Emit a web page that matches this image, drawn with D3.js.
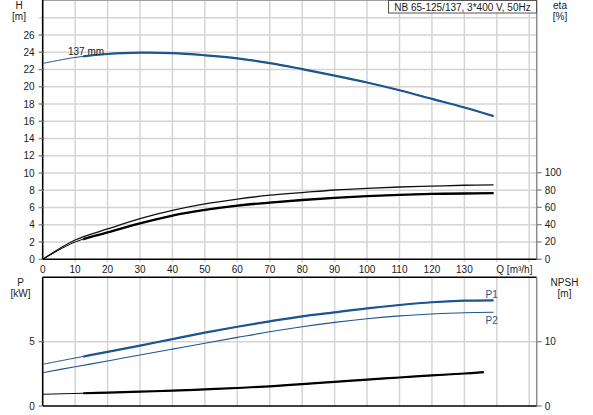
<!DOCTYPE html>
<html>
<head>
<meta charset="utf-8">
<script src="https://cdn.jsdelivr.net/npm/d3@7"></script>
<style>
  body { margin: 0; background: #fff; }
  text { font-family: "Liberation Sans", Arial, sans-serif; font-size: 10px; fill: #1a1a1a; }
</style>
</head>
<body>
<div id="chart"></div>
<script>
// pump curve data
var flowQ = [0, 10, 20, 30, 40, 50, 60, 70, 80, 90, 100, 110, 120, 130, 139];
var headH = [22.7, 23.4, 23.8, 23.95, 23.9, 23.65, 23.3, 22.75, 22.05, 21.3, 20.5, 19.6, 18.6, 17.6, 16.6];
var etaUpper = [0, 22.3, 35, 47, 56.5, 64, 69.5, 74, 77, 80, 82, 83.5, 84.5, 85.5, 86];
var etaLower = [0, 20, 31, 41.5, 50.5, 57, 62, 65.5, 68.5, 71, 73, 74.5, 75.5, 76, 76.5];
var powerP1 = [3.24, 3.73, 4.2, 4.69, 5.2, 5.7, 6.16, 6.58, 6.97, 7.27, 7.59, 7.85, 8.06, 8.18, 8.21];
var powerP2 = [2.59, 3.05, 3.5, 3.96, 4.42, 4.88, 5.33, 5.77, 6.16, 6.5, 6.78, 7.0, 7.15, 7.25, 7.28];
var npshQ = [0, 10, 20, 30, 40, 50, 60, 70, 80, 90, 100, 110, 120, 130, 136];
var npshM = [1.82, 1.95, 2.07, 2.23, 2.38, 2.59, 2.8, 3.06, 3.4, 3.75, 4.1, 4.43, 4.75, 5.05, 5.25];

var qTicks = [0, 10, 20, 30, 40, 50, 60, 70, 80, 90, 100, 110, 120, 130];
var qGrid = [10, 20, 30, 40, 50, 60, 70, 80, 90, 100, 110, 120, 130, 140, 150];
var hTicks = [0, 2, 4, 6, 8, 10, 12, 14, 16, 18, 20, 22, 24, 26];
var hGrid = [2, 4, 6, 8, 10, 12, 14, 16, 18, 20, 22, 24, 26, 28];
var etaTicks = [0, 20, 40, 60, 80, 100];
var pTicks = [0, 5];
var npshTicks = [0, 10];

var w = 593, h = 415;
var blue = "#1d5590";
var gridColor = "#d4d4d4";
var thickFrom = 12.5; // curves drawn thin below this flow

var svg = d3.select("#chart").append("svg")
    .attr("width", w)
    .attr("height", h);

// scales
var x = d3.scaleLinear().domain([0, 152.3]).range([42.7, 536.7]);
var yH = d3.scaleLinear().domain([0, 30]).range([259.3, 0.5]);
var yEta = d3.scaleLinear().domain([0, 100]).range([259.3, 172.7]);
var yP = d3.scaleLinear().domain([0, 10]).range([406, 277.3]);
var yN = d3.scaleLinear().domain([0, 20]).range([406, 277.3]);

// clip for the thick (operating range) part of each curve
svg.append("clipPath").attr("id", "thick")
    .append("rect")
    .attr("x", x(thickFrom)).attr("y", 0)
    .attr("width", w - x(thickFrom)).attr("height", h);

// ---------- grids ----------
function vGrid(y0, y1) {
    svg.append("g").selectAll("line")
        .data(qGrid)
        .enter()
        .append("line")
        .attr("x1", function(d) { return x(d); })
        .attr("x2", function(d) { return x(d); })
        .attr("y1", y0)
        .attr("y2", y1)
        .attr("stroke", gridColor)
        .attr("stroke-width", 1.5);
}
vGrid(yH(30), yH(0) + 3);
vGrid(yP(10), yP(0));

svg.append("g").selectAll("line")
    .data(hGrid)
    .enter()
    .append("line")
    .attr("x1", x.range()[0] - 4)
    .attr("x2", x.range()[1])
    .attr("y1", function(d) { return yH(d); })
    .attr("y2", function(d) { return yH(d); })
    .attr("stroke", gridColor)
    .attr("stroke-width", 1.5);

svg.append("line")
    .attr("x1", x.range()[0] - 4).attr("x2", x.range()[1])
    .attr("y1", yP(5)).attr("y2", yP(5))
    .attr("stroke", gridColor).attr("stroke-width", 1.5);

// ---------- frames ----------
// top panel: gray top/right, black left/bottom
svg.append("line").attr("x1", x(0)).attr("x2", x.range()[1])
    .attr("y1", yH(30)).attr("y2", yH(30))
    .attr("stroke", "#a0a0a0").attr("stroke-width", 1.2);
svg.append("line").attr("x1", x.range()[1]).attr("x2", x.range()[1])
    .attr("y1", yH(30)).attr("y2", yH(0))
    .attr("stroke", "#8a8a8a").attr("stroke-width", 1.5);
svg.append("line").attr("x1", x(0)).attr("x2", x(0))
    .attr("y1", 0).attr("y2", yH(0))
    .attr("stroke", "#000").attr("stroke-width", 1.6);
svg.append("line").attr("x1", x(0)).attr("x2", x.range()[1])
    .attr("y1", yH(0)).attr("y2", yH(0))
    .attr("stroke", "#000").attr("stroke-width", 1.6);

// bottom panel
svg.append("line").attr("x1", x(0)).attr("x2", x.range()[1])
    .attr("y1", yP(10)).attr("y2", yP(10))
    .attr("stroke", "#000").attr("stroke-width", 1.5);
svg.append("line").attr("x1", x.range()[1]).attr("x2", x.range()[1])
    .attr("y1", yP(10)).attr("y2", yP(0))
    .attr("stroke", "#8a8a8a").attr("stroke-width", 1.5);
svg.append("line").attr("x1", x(0)).attr("x2", x(0))
    .attr("y1", yP(10)).attr("y2", yP(0))
    .attr("stroke", "#000").attr("stroke-width", 1.6);
svg.append("line").attr("x1", x(0)).attr("x2", x.range()[1])
    .attr("y1", yP(0)).attr("y2", yP(0))
    .attr("stroke", "#000").attr("stroke-width", 1.6);

// ---------- tick marks and labels ----------
function leftTicks(data, scale) {
    var g = svg.append("g");
    g.selectAll("line").data(data).enter().append("line")
        .attr("x1", x(0) - 4).attr("x2", x(0))
        .attr("y1", function(d) { return scale(d); })
        .attr("y2", function(d) { return scale(d); })
        .attr("stroke", "#888").attr("stroke-width", 1.3);
    g.selectAll("text").data(data).enter().append("text")
        .text(function(d) { return d; })
        .attr("text-anchor", "end")
        .attr("x", x(0) - 8)
        .attr("y", function(d) { return scale(d) + 3.5; });
}
function rightTicks(data, scale) {
    var g = svg.append("g");
    g.selectAll("line").data(data).enter().append("line")
        .attr("x1", x.range()[1]).attr("x2", x.range()[1] + 5)
        .attr("y1", function(d) { return scale(d); })
        .attr("y2", function(d) { return scale(d); })
        .attr("stroke", "#888").attr("stroke-width", 1.3);
    g.selectAll("text").data(data).enter().append("text")
        .text(function(d) { return d; })
        .attr("text-anchor", "start")
        .attr("x", x.range()[1] + 8)
        .attr("y", function(d) { return scale(d) + 3.5; });
}
leftTicks(hTicks, yH);
rightTicks(etaTicks, yEta);
leftTicks(pTicks, yP);
rightTicks(npshTicks, yN);

svg.append("g").selectAll("text")
    .data(qTicks)
    .enter()
    .append("text")
    .text(function(d) { return d; })
    .attr("text-anchor", "middle")
    .attr("x", function(d) { return x(d); })
    .attr("y", yH(0) + 14);

svg.append("text").text("Q [m\u00b3/h]")
    .attr("x", x(140) - 0.5).attr("y", yH(0) + 14);

// axis titles
function title(lines, cx, y0) {
    lines.forEach(function(t, i) {
        svg.append("text").text(t)
            .attr("text-anchor", "middle")
            .attr("x", cx).attr("y", y0 + i * 11);
    });
}
title(["H", "[m]"], 19, 8.5);
title(["eta", "[%]"], 560, 8.5);
title(["P", "[kW]"], 20.5, 285.5);
title(["NPSH", "[m]"], 564.5, 285.5);

// ---------- curves ----------
function drawCurve(qs, vs, yScale, color, thinW, thickW, fullThick) {
    var line = d3.line()
        .x(function(d, i) { return x(qs[i]); })
        .y(function(d) { return yScale(d); })
        .curve(d3.curveCatmullRom.alpha(0.5));
    svg.append("path")
        .attr("d", line(vs))
        .attr("fill", "none")
        .attr("stroke", color)
        .attr("stroke-width", thinW);
    if (fullThick) {
        svg.append("path")
            .attr("d", line(vs))
            .attr("fill", "none")
            .attr("stroke", color)
            .attr("stroke-width", thickW)
            .attr("clip-path", "url(#thick)");
    }
}

drawCurve(flowQ, headH, yH, blue, 1, 2.2, true);
drawCurve(flowQ, etaUpper, yEta, "#111", 1.3, 1.3, false);
drawCurve(flowQ, etaLower, yEta, "#000", 1, 2.3, true);
drawCurve(flowQ, powerP1, yP, blue, 1, 2.2, true);
drawCurve(flowQ, powerP2, yP, blue, 1.1, 1.1, false);
drawCurve(npshQ, npshM, yN, "#000", 1, 2.2, true);

// curve labels
svg.append("text").text("137 mm").attr("x", 68).attr("y", 55);
svg.append("text").text("P1").attr("x", 485.5).attr("y", 297.5).style("fill", blue);
svg.append("text").text("P2").attr("x", 485.5).attr("y", 323.5).style("fill", blue);

// pump legend box
svg.append("rect")
    .attr("x", 388.5).attr("y", 0.5)
    .attr("width", 148).attr("height", 12.5)
    .attr("fill", "#fff")
    .attr("stroke", "#555").attr("stroke-width", 1);
svg.append("text").text("NB 65-125/137, 3*400 V, 50Hz")
    .attr("text-anchor", "middle")
    .attr("x", 462.5).attr("y", 10.5);
</script>
</body>
</html>
